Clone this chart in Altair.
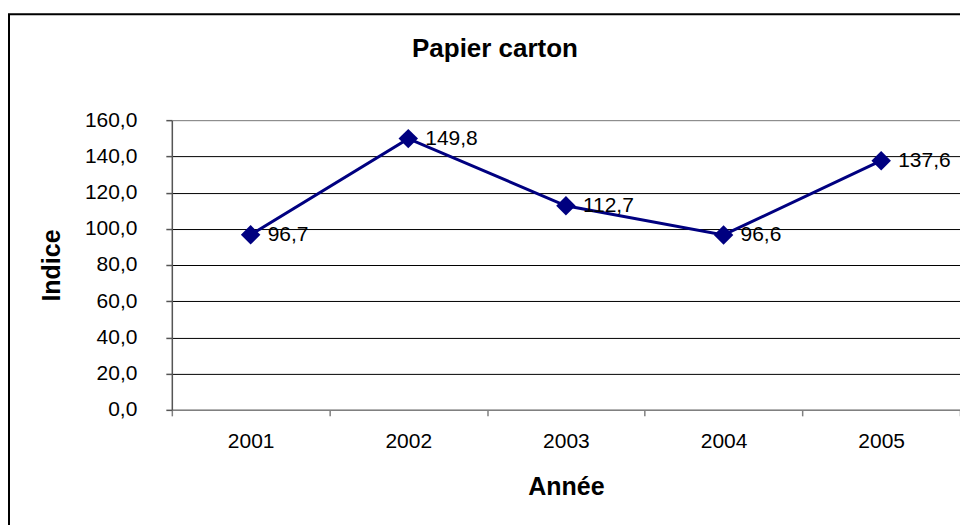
import altair as alt
import pandas as pd

years = ["2001", "2002", "2003", "2004", "2005"]
values = [96.7, 149.8, 112.7, 96.6, 137.6]
y_ticks = [0, 20, 40, 60, 80, 100, 120, 140, 160]

NAVY = "#000080"
FONT = "Liberation Sans"

df = pd.DataFrame({"Année": years, "Indice": values})

x_enc = alt.X(
    "Année:N",
    sort=years,
    scale=alt.Scale(type="band", paddingInner=0, paddingOuter=0),
    axis=alt.Axis(
        title="Année",
        labelAngle=0,
        tickBand="extent",
        grid=False,
        domainColor="#808080",
        domainWidth=1.5,
        tickColor="#808080",
        tickWidth=1.5,
        tickSize=6,
        labelFontSize=21,
        labelFont=FONT,
        labelColor="black",
        labelBaseline="alphabetic",
        labelPadding=32,
        titleFontSize=25,
        titleFont=FONT,
        titleFontWeight="bold",
        titleColor="black",
        titleBaseline="alphabetic",
        titleY=85,
    ),
)

y_enc = alt.Y(
    "Indice:Q",
    scale=alt.Scale(domain=[0, 160], nice=False),
    axis=alt.Axis(
        title="Indice",
        values=y_ticks,
        labelExpr="replace(format(datum.value, '.1f'), '.', ',')",
        grid=True,
        gridColor={"condition": {"test": "datum.value >= 160 || datum.value <= 0", "value": "#808080"}, "value": "#000000"},
        gridWidth=1,
        domainColor="#555555",
        domainWidth=1.5,
        tickColor="#555555",
        tickWidth=1.5,
        tickSize=6,
        labelFontSize=21,
        labelFont=FONT,
        labelColor="black",
        labelPadding=29,
        titleFontSize=25,
        titleFont=FONT,
        titleFontWeight="bold",
        titleColor="black",
        titleAngle=270,
        titleAlign="center",
        titleBaseline="middle",
        titleX=-120,
        titleY=145,
    ),
)

base = alt.Chart(df)

line = base.mark_line(color=NAVY, strokeWidth=3).encode(x=x_enc, y=y_enc)
points = base.mark_point(shape="diamond", filled=True, size=380, color=NAVY, opacity=1).encode(x=x_enc, y=y_enc)
labels = base.transform_calculate(
    lab="replace(format(datum['Indice'], '.1f'), '.', ',')"
).mark_text(
    align="left", baseline="middle", dx=17, fontSize=21, font=FONT, color="black"
).encode(x=x_enc, y=y_enc, text="lab:N")

frame = alt.Chart(pd.DataFrame({"a": [0]})).mark_rect(
    fill=None, stroke="black", strokeWidth=2, clip=False
).encode(
    x=alt.value(-163), x2=alt.value(900), y=alt.value(-106), y2=alt.value(500)
)

chart = alt.layer(frame, line, points, labels).properties(
    width=789,
    height=290,
    padding={"left": 164, "top": 112, "right": 0, "bottom": 115},
    autosize=alt.AutoSizeParams(type="none"),
    title=alt.Title(
        "Papier carton",
        fontSize=26,
        font=FONT,
        fontWeight="bold",
        color="black",
        anchor="middle",
        frame="group",
        baseline="alphabetic",
        offset=-70,
        dx=-71,
    ),
).configure_view(
    stroke="#808080", strokeWidth=1.5
).configure(background="white")

chart.save("out.html", embed_options={"renderer": "svg", "actions": False})
